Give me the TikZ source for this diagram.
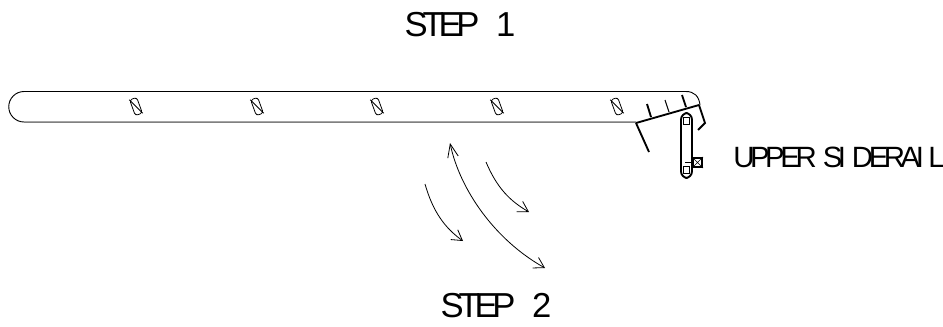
\documentclass[tikz,border=0pt]{standalone}
\usepackage{fontspec}
\usetikzlibrary{arrows.meta}
\setmainfont{Liberation Sans}
\newfontfamily\steplabel[LetterSpace=-15]{Liberation Sans}
\newfontfamily\raillabel[LetterSpace=-15]{Liberation Sans}
\tikzset{
  beltline/.style={draw=black, line width=0.7pt},
  thickline/.style={draw=black, line width=1.4pt},
  cleat/.style={draw=black, line width=0.6pt, rotate=20, shape=rectangle, rounded corners=2pt, minimum width=5.6pt, minimum height=12.5pt, inner sep=0pt},
  swing/.style={draw=black, line width=0.6pt, -{Straight Barb[length=7.5pt,width=9pt]}},
  pin/.style={draw=black, line width=0.7pt, minimum size=5pt, inner sep=0pt},
  steptext/.style={inner sep=0pt, font=\steplabel\fontsize{26}{26}\selectfont},
  railtext/.style={inner sep=0pt, anchor=west, font=\raillabel\fontsize{22}{22}\selectfont}
}
\begin{document}
\begin{tikzpicture}[x=0.75pt,y=-0.75pt]
	\useasboundingbox (0,0) rectangle (943,326);

	\node[steptext] (S1) at (460,25) {STEP\hspace{0.35em} 1};
	\node[steptext] (S2) at (496,306) {STEP\hspace{0.35em} 2};
	\node[railtext] (R) at (733,157.5) {UPPER\hspace{0.08em} SI\hspace{0.2em}DERAI\hspace{0.15em}L};

	% belt
	\draw[beltline] (636,122) -- (24,122) arc (90:270:15.25) -- (686,91.5)
		.. controls (694,91.5) and (699,96) .. (700,105);
	\draw[draw=gray, line width=0.5pt] (24,122.6) -- (636,122.6);

	% cleats on the belt
	\foreach \cx/\name in {136/a,257/b,377/c,497/d,617/e}{
		\node[cleat] (cleat\name) at (\cx,106.5) {};
		\draw[draw=black, line width=0.6pt] (cleat\name.north west) -- (cleat\name.south east);
	}

	% guide
	\draw[thickline] (636,123) -- (699,105);
	\draw[thickline] (636,123) -- (649,152);
	\draw[thickline] (651,117) -- (647,104);
	\draw[draw=black, line width=0.8pt] (669,112) -- (665,100);
	\draw[thickline] (686,107) -- (682,95);
	\draw[thickline] (699,105) -- (705,123) -- (698,130);

	% upper siderail
	\draw[thickline, rounded corners=5pt] (681,113) rectangle (692,178);
	\node[pin] (T) at (686.5,121) {};
	\node[pin] (B) at (686.5,170) {};
	\node[draw=black, line width=1.4pt, minimum size=7pt, inner sep=0pt] (X) at (697.5,162.5) {};
	\draw[draw=black, line width=0.5pt] (X.north west) -- (X.south east) (X.north east) -- (X.south west);
	\draw[thickline] (685,162.5) -- (X.west);

	% arrows
	\coordinate (a1) at (425,184);
	\coordinate (a2) at (463,241);
	\coordinate (b1) at (486,162);
	\coordinate (b2) at (529,212);
	\coordinate (c1) at (450,143);
	\coordinate (c2) at (545,268);
	\draw[swing] (a1) .. controls (433,212) and (445,228) .. (a2);
	\draw[swing] (b1) .. controls (497,188) and (510,201) .. (b2);
	\draw[swing, {Straight Barb[length=10pt,width=8pt]}-{Straight Barb[length=7.5pt,width=9pt]}] (c1) .. controls (460,190) and (495,240) .. (c2);
\end{tikzpicture}
\end{document}
